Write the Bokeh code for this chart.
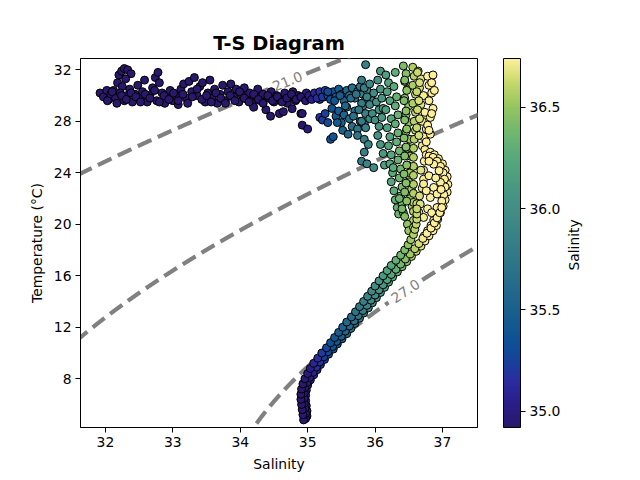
import numpy as np
from bokeh.plotting import figure
from bokeh.layouts import row
from bokeh.models import (Range1d, FixedTicker, LinearColorMapper, ColorBar,
                          PrintfTickFormatter, ColumnDataSource)
from bokeh.transform import transform
from bokeh.core.properties import value
from bokeh.embed import file_html
from bokeh.resources import INLINE

# ---------------- data ----------------
# fresh surface layer (purple)
surf_S = [31.92, 31.97, 32.02, 32.05, 32.08, 32.12, 32.15, 32.18, 32.20, 32.24, 32.28, 32.33,
          32.38, 32.30, 32.25, 32.22, 32.28, 32.32, 32.36, 32.40, 32.44, 32.48, 32.52, 32.55,
          32.58, 32.62, 32.66, 32.70, 32.74, 32.78, 32.80, 32.76, 32.84, 32.88, 32.92, 32.96,
          33.00, 33.04, 33.08, 33.12, 33.16, 33.20, 33.24, 33.28, 33.32, 33.36, 33.40, 33.44,
          33.48, 33.52, 33.55, 33.58, 33.62, 33.66, 33.70, 33.74, 33.78, 33.82, 33.86, 33.90,
          33.94, 33.98, 34.02, 34.06, 34.10, 34.14, 34.18, 34.22, 34.26, 34.30, 34.34, 34.38,
          34.42, 34.46, 34.50, 34.54, 34.58, 34.62, 34.66, 34.70, 34.74, 34.78, 34.82, 34.86,
          34.90, 34.94, 34.98, 34.64, 34.77, 34.92, 34.92, 35.00, 34.20, 34.45]
surf_T = [30.2, 29.9, 30.4, 29.7, 30.1, 30.4, 29.8, 31.0, 31.6, 31.9, 32.1, 32.0,
          31.7, 31.3, 30.7, 30.2, 29.6, 30.0, 30.5, 29.5, 30.1, 30.8, 29.7, 30.3,
          31.2, 29.5, 30.0, 30.6, 31.4, 31.8, 31.0, 29.6, 30.2, 29.4, 29.9, 30.4,
          29.6, 30.0, 29.3, 30.5, 30.9, 29.8, 31.1, 30.3, 31.4, 30.0, 30.7, 31.0,
          29.5, 30.2, 31.2, 29.8, 30.5, 29.4, 30.1, 30.8, 29.6, 30.3, 30.9, 29.9,
          30.5, 29.5, 30.1, 30.6, 29.7, 30.2, 29.4, 30.0, 30.5, 29.6, 30.1, 28.9,
          29.8, 30.3, 29.5, 30.0, 28.6, 29.7, 30.2, 29.4, 29.9, 30.3, 29.6, 30.0,
          28.6, 29.8, 30.2, 28.75, 28.98, 28.6, 27.7, 27.4, 29.1, 28.4]
# core of the surface band
core_S = [32.03, 32.10, 32.17, 32.24, 32.31, 32.38, 32.45, 32.52, 32.59, 32.66, 32.73, 32.80,
          32.87, 32.94, 33.01, 33.08, 33.15, 33.22, 33.29, 33.36, 33.43, 33.50, 33.57, 33.64,
          33.71, 33.78, 33.85, 33.92, 33.99, 34.06, 34.13, 34.20, 34.27, 34.34, 34.41, 34.48,
          34.55, 34.62, 34.69, 34.76, 34.83, 34.90, 34.97, 35.04, 35.11, 35.18, 35.25]
core_T = [29.6, 30.3, 29.4, 30.0, 29.7, 30.2, 29.9, 29.5, 30.1, 29.8, 30.4, 29.5,
          30.0, 29.7, 30.2, 29.6, 30.1, 29.4, 29.9, 30.5, 29.7, 30.0, 29.5, 30.2,
          29.8, 29.4, 30.0, 29.6, 30.3, 29.8, 29.5, 30.1, 29.7, 29.4, 30.0, 29.6,
          29.9, 29.5, 29.8, 30.1, 29.7, 29.9, 29.6, 29.8, 30.0, 29.7, 29.9]

# transition (blue / teal)
trans_S = [35.02, 35.06, 35.10, 35.14, 35.18, 35.22, 35.26, 35.30, 35.34, 35.38, 35.42, 35.46,
           35.50, 35.54, 35.58, 35.62, 35.66, 35.70, 35.74, 35.78, 35.82, 35.86, 35.18, 35.22,
           35.26, 35.30, 35.34, 35.38, 35.36, 35.42, 35.46, 35.50, 35.54, 35.58, 35.62, 35.66,
           35.70, 35.74, 35.78, 35.82, 35.86,
           35.30, 35.40, 35.48, 35.56, 35.64, 35.72, 35.80, 35.88, 35.44, 35.52, 35.60, 35.68,
           35.76, 35.84, 35.92, 35.96, 35.74, 35.84]
trans_T = [30.0, 29.7, 30.2, 29.8, 30.3, 29.9, 30.4, 30.0, 29.7, 30.3, 29.9, 30.5,
           30.1, 29.6, 30.4, 30.0, 30.6, 29.8, 30.3, 30.7, 30.1, 29.7, 28.3, 28.1,
           28.6, 27.9, 26.6, 26.8, 29.0, 28.4, 28.8, 27.9, 28.5, 29.1, 28.2, 27.6,
           28.8, 27.4, 28.0, 29.2, 28.6,
           30.3, 29.6, 30.0, 29.2, 29.8, 30.1, 29.4, 30.4, 27.9, 27.3, 27.0, 28.4,
           28.9, 27.8, 28.2, 29.6, 26.9, 26.6]

# salty upper columns (green / yellow)
col_S = [35.80, 35.84, 35.88, 35.92, 35.96, 35.80, 35.86, 35.92, 35.98, 36.02, 36.06, 36.00,
         35.90, 35.84, 35.80, 35.88, 35.98, 35.86, 36.08, 36.04, 36.08, 36.10, 36.12, 36.10,
         36.06, 36.04, 36.08, 36.12, 36.14,
         36.16, 36.20, 36.18, 36.22, 36.16, 36.24, 36.18, 36.22, 36.20, 36.24, 36.22, 36.26,
         36.24, 36.28, 36.30, 36.33, 36.35, 36.27, 36.30, 36.28, 36.32, 36.30, 36.34, 36.30,
         36.34, 36.32, 36.36, 36.34, 36.38, 36.36, 36.40, 36.38, 36.40, 36.42,
         36.42, 36.46, 36.44, 36.48, 36.44, 36.50, 36.46, 36.50, 36.46, 36.52, 36.48, 36.52,
         36.48, 36.52, 36.50, 36.54, 36.52, 36.55, 36.56, 36.58, 36.56, 36.60, 36.56, 36.60,
         36.58, 36.60, 36.58, 36.57, 36.57, 36.57, 36.57, 36.57, 36.57, 36.57, 36.57, 36.57,
         36.57,
         36.64, 36.68, 36.66, 36.72, 36.68, 36.74, 36.70, 36.76, 36.72, 36.70, 36.78, 36.80,
         36.84, 36.80, 36.86, 36.82, 36.78, 36.82, 36.76, 36.84, 36.88, 36.74]
col_T = [31.2, 30.6, 29.9, 29.3, 28.6, 28.0, 27.5, 30.9, 30.2, 29.5, 28.9, 28.1,
         26.2, 25.6, 24.9, 24.7, 24.4, 32.4, 31.9, 31.2, 30.5, 29.8, 29.0, 28.3,
         27.6, 26.9, 26.2, 25.5, 24.6,
         31.6, 31.0, 30.3, 29.6, 28.9, 28.2, 27.5, 26.8, 26.1, 25.4, 24.7, 24.0,
         23.3, 22.6, 21.9, 21.3, 20.8, 24.4, 31.8, 30.7, 29.9, 29.2, 28.5, 27.8,
         27.1, 26.4, 25.7, 25.0, 24.3, 23.6, 22.9, 22.2, 21.5, 20.9,
         32.3, 31.7, 31.1, 30.5, 29.8, 29.2, 28.5, 27.9, 27.2, 26.6, 25.9, 25.3,
         24.6, 24.0, 23.3, 22.7, 22.0, 21.4, 32.2, 31.5, 30.8, 30.1, 29.4, 28.7,
         28.0, 27.3, 26.6, 25.9, 25.2, 24.5, 23.8, 23.1, 22.4, 21.7, 21.0, 20.3,
         19.6,
         31.9, 31.3, 30.6, 30.0, 29.3, 28.7, 28.0, 27.4, 26.8, 26.1, 31.5, 30.8,
         30.2, 29.6, 29.0, 28.3, 27.7, 27.0, 26.4, 31.0, 30.4, 25.8]
# extra points filling the dense green/yellow band
col2_S = [36.44, 36.47, 36.43, 36.46, 36.44, 36.47, 36.43, 36.46, 36.44, 36.47, 36.43, 36.46,
          36.44, 36.47, 36.63, 36.66, 36.62, 36.65, 36.63, 36.66, 36.62, 36.65,
          36.36, 36.40, 36.44, 36.48, 36.50, 36.86, 36.84, 36.80]
col2_T = [31.2, 30.4, 29.6, 28.8, 28.1, 27.4, 26.7, 26.0, 25.3, 24.6, 23.9, 23.2,
          22.5, 21.8, 31.8, 31.0, 30.3, 29.6, 28.9, 28.2, 27.5, 26.9,
          22.0, 21.2, 20.6, 20.0, 19.5, 31.6, 28.6, 27.3]

# warm salty bulge: outline, inner outline, interior
bulge_edge_S = [36.62, 36.66, 36.70, 36.72, 36.72, 36.73, 36.76, 36.82, 36.88, 36.94, 37.00,
                37.04, 37.07, 37.08, 37.07, 37.04, 37.01, 36.97, 36.93]
bulge_edge_T = [21.6, 22.2, 22.8, 23.5, 24.2, 24.9, 25.4, 25.6, 25.4, 25.1, 24.7,
                24.2, 23.7, 23.1, 22.5, 21.9, 21.4, 20.9, 20.4]
bulge_in_S = [36.80, 36.86, 36.92, 36.97, 37.01, 37.03, 37.04, 37.02, 36.99, 36.95, 36.91,
              36.87, 36.83, 36.78, 36.73]
bulge_in_T = [25.3, 25.2, 24.9, 24.5, 24.0, 23.5, 22.9, 22.3, 21.8, 21.3, 20.8,
              20.3, 19.9, 19.5, 19.1]
bulge_S = [36.87, 36.95, 36.80, 36.97, 36.87, 36.72, 36.82, 36.92, 36.67, 36.65, 36.72,
           36.57, 36.92, 36.80, 36.90, 36.98, 36.78, 36.84, 36.76, 36.68]
bulge_T = [24.67, 24.16, 23.77, 23.25, 22.86, 23.13, 22.08, 22.35, 21.57, 20.92, 20.53,
           19.75, 21.30, 24.9, 23.6, 22.7, 21.2, 20.9, 22.6, 24.2]

# thermocline: outer dark edge, right edge, then left edge of the band
therm_x_T = [5.1, 5.5, 5.9, 6.3, 6.7, 7.1, 7.5, 7.9, 8.3, 8.7, 9.1, 9.5, 9.9, 10.3, 10.7,
             11.1, 11.5, 11.9, 12.3, 12.7, 13.1, 13.5, 13.9, 14.3, 14.7, 15.1, 15.5, 15.9,
             16.3, 16.7, 17.1, 17.5, 17.9, 18.3, 18.7, 19.1, 19.5, 19.9]
therm_x_S = [34.99, 34.99, 34.98, 34.97, 34.97, 34.98, 35.00, 35.04, 35.09, 35.14, 35.19,
             35.25, 35.31, 35.38, 35.44, 35.51, 35.58, 35.64, 35.70, 35.77, 35.83, 35.90,
             35.96, 36.02, 36.08, 36.14, 36.20, 36.26, 36.33, 36.40, 36.47, 36.54, 36.61,
             36.68, 36.74, 36.80, 36.86, 36.91]
therm_r_T = [4.9, 5.3, 5.7, 6.1, 6.5, 6.9, 7.3, 7.7, 8.1, 8.5, 8.9, 9.3, 9.7, 10.1, 10.5,
             10.9, 11.3, 11.7, 12.1, 12.5, 12.9, 13.3, 13.7, 14.1, 14.5, 14.9, 15.3, 15.7,
             16.1, 16.5, 16.9, 17.3, 17.7, 18.1, 18.5, 18.9, 19.3, 19.7, 20.1, 20.5, 20.9, 21.3]
therm_r_S = [34.97, 34.97, 34.96, 34.95, 34.95, 34.95, 34.96, 34.99, 35.03, 35.08, 35.13,
             35.18, 35.24, 35.30, 35.37, 35.43, 35.50, 35.56, 35.62, 35.69, 35.75, 35.82,
             35.88, 35.94, 36.00, 36.06, 36.12, 36.18, 36.24, 36.31, 36.38, 36.45, 36.52,
             36.59, 36.65, 36.71, 36.77, 36.83, 36.88, 36.92, 36.96, 36.99]
therm_l_T = [4.8, 5.2, 5.6, 6.0, 6.4, 6.8, 7.2, 7.6, 8.0, 8.4, 8.8, 9.2, 9.6, 10.0, 10.4,
             10.8, 11.2, 11.6, 12.0, 12.4, 12.8, 13.2, 13.6, 14.0, 14.4, 14.8, 15.2, 15.6,
             16.0, 16.4, 16.8, 17.2, 17.6, 18.0, 18.4, 18.8, 19.2, 19.6, 20.0, 20.4, 20.8, 21.2]
therm_l_S = [34.94, 34.93, 34.92, 34.91, 34.90, 34.90, 34.91, 34.93, 34.96, 35.00, 35.04,
             35.09, 35.15, 35.21, 35.28, 35.34, 35.40, 35.46, 35.52, 35.58, 35.65, 35.71,
             35.77, 35.83, 35.89, 35.95, 36.00, 36.06, 36.12, 36.18, 36.24, 36.31, 36.38,
             36.44, 36.49, 36.53, 36.57, 36.59, 36.61, 36.62, 36.62, 36.62]

# density (sigma) contour levels and where their labels sit (salinity)
sigma_levels = [21.0, 24.0, 27.0]
label_S = [34.70, 36.53, 36.45]

x_ticks = [32, 33, 34, 35, 36, 37]
y_ticks = [8, 12, 16, 20, 24, 28, 32]
cb_ticks = [35.0, 35.5, 36.0, 36.5]

# ---------------- layout / style ----------------
X0, X1 = 31.63, 37.52
Y0, Y1 = 4.21, 32.88
W, H = 566, 480          # main figure; a narrow strip to its right holds the colour-bar label
W2 = 640 - W
BL, BR, BT, BB = 80, 89, 58, 53
FW, FH = W - BL - BR, H - BT - BB
ppx, ppy = FW / (X1 - X0), FH / (Y1 - Y0)
FONT = "DejaVu Sans"

anchors = ["#29186B", "#2A1D89", "#2B2CA0", "#13459A", "#0F5493", "#185F8D", "#24698B",
           "#2E7489", "#377E87", "#3F8986", "#469484", "#4EA080", "#5CAC79", "#76B96C",
           "#98C660", "#C8D86C", "#FDEF9A"]
arr = np.array([[int(c[i:i + 2], 16) for i in (1, 3, 5)] for c in anchors], float)
pos = np.linspace(0, 1, len(anchors))
tt = np.linspace(0, 1, 256)
palette = ["#%02x%02x%02x" % tuple(int(round(np.interp(t, pos, arr[:, k]))) for k in range(3))
           for t in tt]
mapper = LinearColorMapper(palette=palette, low=34.92, high=36.74)

p = figure(width=W, height=H, x_range=Range1d(X0, X1), y_range=Range1d(Y0, Y1),
           output_backend="svg", toolbar_location=None,
           min_border_left=BL, min_border_right=BR, min_border_top=BT, min_border_bottom=BB,
           title="T-S Diagram")
p.grid.visible = False
p.outline_line_color = "black"
p.outline_line_width = 1
p.outline_line_alpha = 1
p.background_fill_color = "white"
p.border_fill_color = "white"

p.title.align = "center"
p.title.text_font = FONT
p.title.text_font_size = "19.4px"
p.title.text_font_style = "bold"
p.title.text_color = "black"
p.title.standoff = 7

for ax, ticks, lab in ((p.xaxis[0], x_ticks, "Salinity"), (p.yaxis[0], y_ticks, "Temperature (°C)")):
    ax.ticker = FixedTicker(ticks=ticks)
    ax.minor_tick_line_color = None
    ax.major_tick_in = 0
    ax.major_tick_out = 5
    ax.major_tick_line_color = "black"
    ax.axis_line_color = "black"
    ax.major_label_text_font = FONT
    ax.major_label_text_font_size = "13.9px"
    ax.major_label_text_color = "black"
    ax.major_label_standoff = 4
    ax.axis_label = lab
    ax.axis_label_text_font = FONT
    ax.axis_label_text_font_size = "13.9px"
    ax.axis_label_text_font_style = "normal"
    ax.axis_label_text_color = "black"
    ax.axis_label_standoff = 6

# ---------------- density contours ----------------
def sigma_t(S, T):
    # EOS-80 at the surface, with the salinity read as absolute salinity
    S = S * 35.0 / 35.16504
    rw = (999.842594 + 6.793952e-2 * T - 9.095290e-3 * T**2 + 1.001685e-4 * T**3
          - 1.120083e-6 * T**4 + 6.536332e-9 * T**5)
    A = (8.24493e-1 - 4.0899e-3 * T + 7.6438e-5 * T**2 - 8.2467e-7 * T**3 + 5.3875e-9 * T**4)
    B = -5.72466e-3 + 1.0227e-4 * T - 1.6546e-6 * T**2
    C = 4.8314e-4
    return rw + A * S + B * S**1.5 + C * S**2 - 1000.0

Tg = np.linspace(0, 36, 1441)
for lev, sl in zip(sigma_levels, label_S):
    lo = np.full_like(Tg, 20.0)
    hi = np.full_like(Tg, 45.0)
    for _ in range(60):
        mid = 0.5 * (lo + hi)
        big = sigma_t(mid, Tg) > lev
        hi = np.where(big, mid, hi)
        lo = np.where(big, lo, mid)
    Sc = 0.5 * (lo + hi)
    tl = float(np.interp(sl, Sc, Tg))
    pxs = (Sc - X0) * ppx
    pys = (Tg - Y0) * ppy
    lx, ly = (sl - X0) * ppx, (tl - Y0) * ppy
    keep = np.hypot(pxs - lx, pys - ly) > 20
    idx = np.where(keep)[0]
    runs = np.split(idx, np.where(np.diff(idx) > 1)[0] + 1)
    for r in runs:
        if len(r) > 1:
            p.line(Sc[r], Tg[r], line_color="#808080", line_width=4.2, line_dash="15 7")
    dT = 0.2
    s1 = float(np.interp(tl - dT, Tg, Sc))
    s2 = float(np.interp(tl + dT, Tg, Sc))
    ang = float(np.arctan2(2 * dT * ppy, (s2 - s1) * ppx))
    p.text(x=[sl], y=[tl], text=["%.1f" % lev], angle=ang, text_align="center",
           text_baseline="middle", text_color="#808080", text_font=value(FONT),
           text_font_size="13.9px")

# ---------------- scatter ----------------
S_all = (surf_S + core_S + trans_S + col_S + col2_S + bulge_edge_S + bulge_in_S + bulge_S
         + therm_x_S + therm_r_S + therm_l_S)
T_all = (surf_T + core_T + trans_T + col_T + col2_T + bulge_edge_T + bulge_in_T + bulge_T
         + therm_x_T + therm_r_T + therm_l_T)
src = ColumnDataSource(dict(S=S_all, T=T_all))
p.scatter("S", "T", source=src, size=8, fill_color=transform("S", mapper),
          line_color="black", line_width=1)

# ---------------- colour bar ----------------
cb = ColorBar(color_mapper=mapper, ticker=FixedTicker(ticks=cb_ticks),
              formatter=PrintfTickFormatter(format="%.1f"), width=17, height=FH,
              location=(26, 0), padding=0, margin=0, bar_line_color="black",
              bar_line_width=1, major_tick_line_color="black", major_tick_out=5,
              major_tick_in=0, minor_tick_line_color=None,
              major_label_text_font=FONT, major_label_text_font_size="13.9px",
              major_label_text_color="black", label_standoff=4,
              border_line_color=None, background_fill_color=None)
p.add_layout(cb, "right")

# strip holding the rotated colour-bar label
q = figure(width=W2, height=H, x_range=Range1d(0, W2), y_range=Range1d(0, H),
           output_backend="svg", toolbar_location=None, x_axis_location=None,
           y_axis_location=None, min_border=0, outline_line_color=None)
q.grid.visible = False
q.background_fill_color = "white"
q.border_fill_color = "white"
q.text(x=[573 - W], y=[H - 242.5], text=["Salinity"], angle=np.pi / 2,
       text_align="center", text_baseline="middle", text_color="black",
       text_font=value(FONT), text_font_size="13.9px")

layout = row(p, q, spacing=0)
open("out.html", "w").write(file_html(layout, INLINE))
